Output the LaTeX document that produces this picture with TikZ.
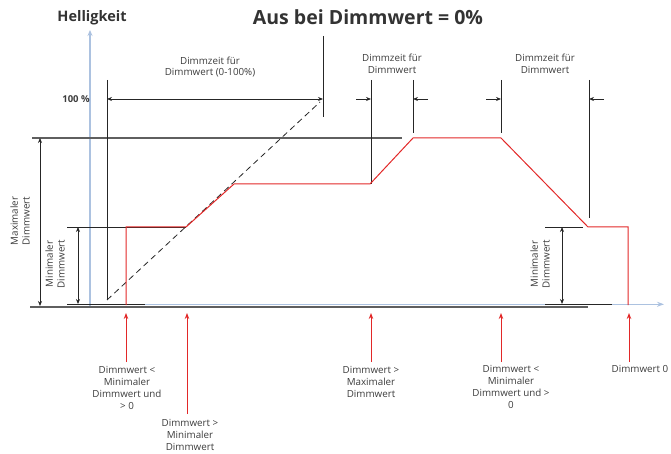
\documentclass[tikz,border=0pt]{standalone}
\usepackage{fontspec}
\setmainfont{Open Sans}
\usetikzlibrary{arrows.meta}
\definecolor{ax}{RGB}{172,194,224}
\definecolor{rd}{RGB}{226,40,40}
\definecolor{gr}{RGB}{95,95,95}
\definecolor{tx}{RGB}{60,60,60}
\begin{document}
\begin{tikzpicture}[x=1pt,y=-1pt,
  lbl/.style={font=\fontsize{9.8}{11.8}\selectfont, text=tx, align=center, inner sep=1pt},
  blk/.style={draw=black!85, line width=0.8pt},
  dimarr/.style={blk, {Stealth[length=5pt,width=4pt]}-{Stealth[length=5pt,width=4pt]}},
  onearr/.style={blk, -{Stealth[length=5pt,width=4pt]}},
  redline/.style={draw=rd, line width=1pt},
  redarr/.style={draw=rd, line width=1pt, -{Stealth[length=6pt,width=4.5pt]}},
  rot/.style={lbl, rotate=90}]
\useasboundingbox (0,0) rectangle (671,454);
% titles
\node[font=\bfseries\fontsize{14.5}{16}\selectfont, text=black!80] (hell) at (92,18) {Helligkeit};
\node[font=\bfseries\fontsize{19.5}{22}\selectfont, text=black!80] (title) at (368,17) {Aus bei Dimmwert = 0\%};
% axes
\coordinate (ya) at (90,306); \coordinate (yb) at (90,30);
\draw[ax, line width=1.3pt, -{Stealth[length=6pt,width=5pt]}] (ya) -- (yb);
\coordinate (xa) at (90,304.3); \coordinate (xb) at (664,304.3);
\draw[ax, line width=1pt, -{Stealth[length=7pt,width=5pt]}] (xa) -- (xb);
\coordinate (gl) at (30,306.8); \coordinate (gr) at (588,306.8);
\draw[gr, line width=1.8pt] (gl) -- (gr);
% max level
\coordinate (ml) at (32,138); \coordinate (mr) at (402,138);
\draw[gr, line width=1.2pt] (ml) -- (mr);
\coordinate (ma) at (40,138); \coordinate (mb) at (40,306);
\draw[dimarr] (ma) -- (mb);
\node[rot] (maxlbl) at (20,221) {Maximaler\\Dimmwert};
% min level left
\coordinate (nl) at (67,227); \coordinate (nr) at (186,227);
\draw[blk] (nl) -- (nr);
\coordinate (nbl) at (67,304); \coordinate (nbr) at (145,304);
\draw[blk] (nbl) -- (nbr);
\coordinate (na) at (78,227); \coordinate (nb) at (78,304);
\draw[dimarr] (na) -- (nb);
\node[rot] (minlbl) at (55,264) {Minimaler\\Dimmwert};
% min level right
\coordinate (ql) at (545,227); \coordinate (qr) at (583,227);
\draw[blk] (ql) -- (qr);
\coordinate (qbl) at (545,304); \coordinate (qbr) at (612,304);
\draw[blk] (qbl) -- (qbr);
\coordinate (qa) at (562,227); \coordinate (qb) at (562,304);
\draw[dimarr] (qa) -- (qb);
\node[rot] (minlbl2) at (540,264) {Minimaler\\Dimmwert};
% 0-100 dimming time
\coordinate (va) at (107,80); \coordinate (vb) at (107,300);
\draw[blk] (va) -- (vb);
\coordinate (wa) at (323,36); \coordinate (wb) at (323,117);
\draw[blk] (wa) -- (wb);
\coordinate (da) at (107,99); \coordinate (db) at (323,99);
\draw[dimarr] (da) -- (db);
\coordinate (sa) at (107,300); \coordinate (sb) at (320,102);
\draw[blk, dashed, dash pattern=on 6pt off 4pt] (sa) -- (sb);
\node[font=\bfseries\fontsize{9.5}{10}\selectfont, text=tx] (hundred) at (76,99) {100 \%};
\node[lbl] (dz1) at (210,67) {Dimmzeit für\\Dimmwert (0-100\%)};
% dimming time up
\coordinate (u1a) at (371,80); \coordinate (u1b) at (371,184);
\draw[blk] (u1a) -- (u1b);
\coordinate (u2a) at (413,80); \coordinate (u2b) at (413,133);
\draw[blk] (u2a) -- (u2b);
\coordinate (p1) at (356,99); \coordinate (p1e) at (371,99);
\draw[onearr] (p1) -- (p1e);
\coordinate (p2) at (428,99); \coordinate (p2e) at (413,99);
\draw[onearr] (p2) -- (p2e);
\node[lbl] (dz2) at (392,64) {Dimmzeit für\\Dimmwert};
% dimming time down
\coordinate (d1a) at (501,80); \coordinate (d1b) at (501,133);
\draw[blk] (d1a) -- (d1b);
\coordinate (d2a) at (589,80); \coordinate (d2b) at (589,218);
\draw[blk] (d2a) -- (d2b);
\coordinate (p3) at (486,99); \coordinate (p3e) at (501,99);
\draw[onearr] (p3) -- (p3e);
\coordinate (p4) at (604,99); \coordinate (p4e) at (589,99);
\draw[onearr] (p4) -- (p4e);
\node[lbl] (dz3) at (545,64) {Dimmzeit für\\Dimmwert};
% red curve
\coordinate (r0) at (126,305); \coordinate (r1) at (126,227);
\coordinate (r2) at (186,227); \coordinate (r3) at (234,184);
\coordinate (r4) at (370,184); \coordinate (r5) at (413,138);
\coordinate (r6) at (501,138); \coordinate (r7) at (588,227);
\coordinate (r8) at (628,227); \coordinate (r9) at (628,305);
\draw[redline, line join=miter] (r0) -- (r1) -- (r2) -- (r3) -- (r4) -- (r5) -- (r6) -- (r7) -- (r8) -- (r9);
% event labels
\node[lbl] (e1) at (127,388) {Dimmwert <\\Minimaler\\Dimmwert und\\> 0};
\node[lbl] (e2) at (190,435) {Dimmwert >\\Minimaler\\Dimmwert};
\node[lbl] (e3) at (371,382) {Dimmwert >\\Maximaler\\Dimmwert};
\node[lbl] (e4) at (511,387) {Dimmwert <\\Minimaler\\Dimmwert und >\\0};
\node[lbl] (e5) at (640,369) {Dimmwert 0};
\coordinate (a1) at (126,362); \coordinate (a1e) at (126,313);
\coordinate (a2) at (187,414); \coordinate (a2e) at (187,313);
\coordinate (a3) at (371,362); \coordinate (a3e) at (371,313);
\coordinate (a4) at (501,362); \coordinate (a4e) at (501,313);
\coordinate (a5) at (629,362); \coordinate (a5e) at (629,313);
\draw[redarr] (a1) -- (a1e);
\draw[redarr] (a2) -- (a2e);
\draw[redarr] (a3) -- (a3e);
\draw[redarr] (a4) -- (a4e);
\draw[redarr] (a5) -- (a5e);
\end{tikzpicture}
\end{document}
